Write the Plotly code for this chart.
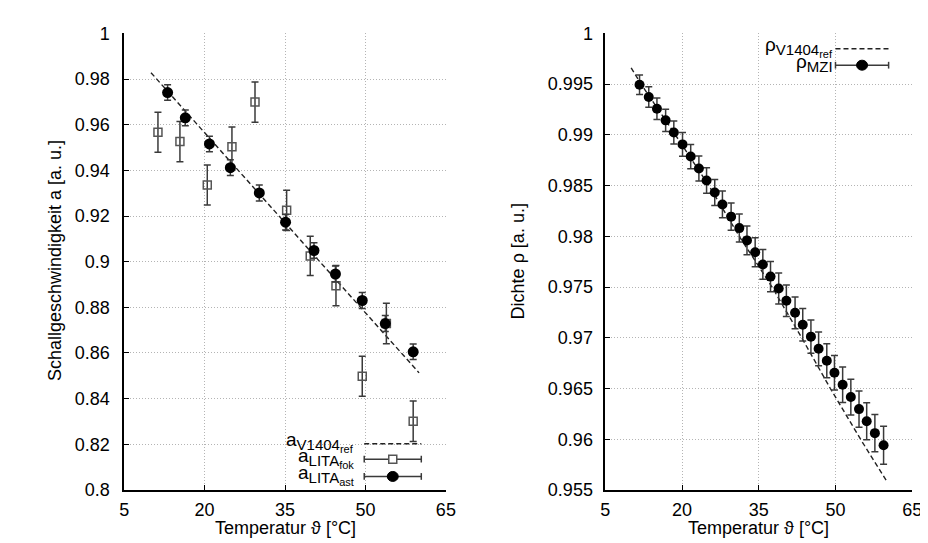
import plotly.graph_objects as go

# left panel: speed of sound
temp_ast = [13.1, 16.4, 20.9, 24.8, 30.2, 35.1, 40.4, 44.4, 49.4, 53.7, 58.9]
a_ast = [0.9741, 0.9630, 0.9516, 0.9412, 0.9301, 0.9173, 0.9049, 0.8946, 0.8830, 0.8729, 0.8605]
a_ast_err = [0.0034, 0.0034, 0.0034, 0.0035, 0.0035, 0.0034, 0.0034, 0.0035, 0.0035, 0.0035, 0.0034]

temp_fok = [11.3, 15.4, 20.5, 25.1, 29.4, 35.3, 39.7, 44.5, 49.4, 53.9, 58.9]
a_fok = [0.9567, 0.9526, 0.9336, 0.9503, 0.9699, 0.9225, 0.9025, 0.8895, 0.8498, 0.8729, 0.8301]
a_fok_err = [0.0088, 0.0088, 0.0088, 0.0087, 0.0088, 0.0088, 0.0086, 0.0088, 0.0088, 0.0089, 0.0089]

temp_ref_a = [10.0, 35.0, 60.0]
a_ref = [0.9828, 0.9170, 0.8513]

# right panel: density
temp_mzi = [11.7, 13.5, 15.1, 16.8, 18.4, 20.1, 21.7, 23.3, 24.8, 26.4, 27.9,
            29.6, 31.2, 32.7, 34.3, 35.8, 37.3, 38.9, 40.4, 42.1, 43.6, 45.2,
            46.7, 48.3, 49.8, 51.4, 53.0, 54.6, 56.1, 57.7, 59.4]
rho_mzi = [0.99494, 0.99374, 0.99257, 0.99143, 0.99023, 0.98906, 0.98786, 0.98669,
           0.98551, 0.98432, 0.98314, 0.98194, 0.98081, 0.97960, 0.97843, 0.97723,
           0.97603, 0.97486, 0.97365, 0.97246, 0.97128, 0.97011, 0.96891, 0.96774,
           0.96655, 0.96537, 0.96416, 0.96297, 0.96177, 0.96060, 0.95940]
rho_err = [0.00097, 0.00101, 0.00106, 0.00109, 0.00114, 0.00117, 0.00120, 0.00123,
           0.00126, 0.00129, 0.00132, 0.00135, 0.00138, 0.00141, 0.00144, 0.00147,
           0.00150, 0.00152, 0.00155, 0.00157, 0.00160, 0.00163, 0.00166, 0.00168,
           0.00171, 0.00174, 0.00176, 0.00179, 0.00182, 0.00184, 0.00187]

temp_ref_rho = [10.06, 12.0, 18.7, 25.25, 31.2, 37.6, 43.4, 49.0, 54.9, 60.06]
rho_ref = [0.99661, 0.995, 0.990, 0.985, 0.980, 0.975, 0.970, 0.965, 0.960, 0.95582]

x_ticks = [5, 20, 35, 50, 65]
a_ticks = [0.8, 0.82, 0.84, 0.86, 0.88, 0.9, 0.92, 0.94, 0.96, 0.98, 1]
a_ticktext = ["0.8", "0.82", "0.84", "0.86", "0.88", "0.9", "0.92", "0.94", "0.96", "0.98", "1"]
rho_ticks = [0.955, 0.96, 0.965, 0.97, 0.975, 0.98, 0.985, 0.99, 0.995, 1]
rho_ticktext = ["0.955", "0.96", "0.965", "0.97", "0.975", "0.98", "0.985", "0.99", "0.995", "1"]

W, H = 928, 543
FONT = "Liberation Sans, Arial, sans-serif"
ERR_COL = "#3a3a3a"
DASH = "5px,3px"


def px(x):
    return x / W


def py(y):
    return 1 - y / H


fig = go.Figure()

fig.add_trace(go.Scatter(x=temp_ref_a, y=a_ref, mode="lines", xaxis="x", yaxis="y",
                         line=dict(color="#222", width=1.4, dash=DASH)))
fig.add_trace(go.Scatter(x=temp_fok, y=a_fok, mode="markers", xaxis="x", yaxis="y",
                         marker=dict(symbol="square-open", size=8, color="#555",
                                     line=dict(width=1.5, color="#555")),
                         error_y=dict(type="data", array=a_fok_err, color=ERR_COL,
                                      thickness=1.5, width=3.5)))
fig.add_trace(go.Scatter(x=temp_ast, y=a_ast, mode="markers", xaxis="x", yaxis="y",
                         marker=dict(symbol="circle", size=11, color="black"),
                         error_y=dict(type="data", array=a_ast_err, color=ERR_COL,
                                      thickness=1.5, width=3.5)))

fig.add_trace(go.Scatter(x=temp_ref_rho, y=rho_ref, mode="lines", xaxis="x2", yaxis="y2",
                         line=dict(color="#222", width=1.4, dash=DASH)))
fig.add_trace(go.Scatter(x=temp_mzi, y=rho_mzi, mode="markers", xaxis="x2", yaxis="y2",
                         marker=dict(symbol="circle", size=10, color="black"),
                         error_y=dict(type="data", array=rho_err, color=ERR_COL,
                                      thickness=1.5, width=3.5)))

ax_common = dict(showline=True, linecolor="black", linewidth=1.5, ticks="inside",
                 ticklen=5, tickcolor="black", showgrid=True, gridcolor="#b4b4b4",
                 griddash="1px,2px", gridwidth=1, zeroline=False,
                 tickfont=dict(family=FONT, size=18, color="black"))

fig.update_layout(
    width=W, height=H, margin=dict(l=0, r=0, t=0, b=0),
    paper_bgcolor="white", plot_bgcolor="white", showlegend=False,
    xaxis=dict(domain=[px(113), px(440)], range=[5, 65], tickvals=x_ticks, anchor="y",
               ticklabelstandoff=3, **ax_common),
    yaxis=dict(domain=[py(490), py(16)], range=[0.8, 1], tickvals=a_ticks, ticktext=a_ticktext,
               anchor="x", ticklabelstandoff=9, **ax_common),
    xaxis2=dict(domain=[px(602), px(914)], range=[5, 65], tickvals=x_ticks, anchor="y2",
                ticklabelstandoff=3, **ax_common),
    yaxis2=dict(domain=[py(490), py(16)], range=[0.955, 1], tickvals=rho_ticks, ticktext=rho_ticktext,
                anchor="x2", ticklabelstandoff=7, **ax_common),
)

# axis titles
for x, y, text, angle in [(277, 530, "Temperatur ϑ [°C]", 0),
                          (758, 530, "Temperatur ϑ [°C]", 0),
                          (42, 252, "Schallgeschwindigkeit a [a. u.]", -90),
                          (513, 253, "Dichte ρ [a. u.]", -90)]:
    fig.add_annotation(x=px(x), y=py(y), xref="paper", yref="paper", text=text,
                       textangle=angle, showarrow=False, xanchor="center", yanchor="middle",
                       font=dict(family=FONT, size=18, color="black"))


# hand drawn gnuplot style keys
def key_line(x0, x1, y):
    fig.add_shape(type="line", xref="paper", yref="paper", x0=px(x0), x1=px(x1), y0=py(y), y1=py(y),
                  line=dict(color="#222", width=1.4, dash=DASH))


def key_errbar(x0, x1, y, symbol):
    fig.add_shape(type="line", xref="paper", yref="paper", x0=px(x0), x1=px(x1), y0=py(y), y1=py(y),
                  line=dict(color=ERR_COL, width=1.5))
    for xe in (x0, x1):
        fig.add_shape(type="line", xref="paper", yref="paper", x0=px(xe), x1=px(xe),
                      y0=py(y - 3.5), y1=py(y + 3.5), line=dict(color=ERR_COL, width=1.5))
    xm = (x0 + x1) / 2
    if symbol == "square":
        fig.add_shape(type="rect", xref="paper", yref="paper", xsizemode="pixel", ysizemode="pixel",
                      xanchor=px(xm), yanchor=py(y), x0=-4, x1=4, y0=-4, y1=4,
                      line=dict(color="#555", width=1.5), fillcolor="white")
    else:
        fig.add_shape(type="circle", xref="paper", yref="paper", xsizemode="pixel", ysizemode="pixel",
                      xanchor=px(xm), yanchor=py(y), x0=-5.5, x1=5.5, y0=-5, y1=5,
                      line=dict(color="black", width=1), fillcolor="black")


def key_text(xr, y, main, sub, subsub=""):
    text = main + "<sub><span style='font-size:15px'>" + sub + "</span>"
    if subsub:
        text += "<sub><span style='font-size:11px'>" + subsub + "</span></sub>"
    text += "</sub>"
    fig.add_annotation(x=px(xr), y=py(y), xref="paper", yref="paper", text=text,
                       xanchor="right", yanchor="middle", showarrow=False, borderpad=0,
                       font=dict(family=FONT, size=19, color="black"))


key_text(348, 440, "a", "V1404", "ref")
key_line(357, 415, 442)
key_text(348, 457, "a", "LITA", "fok")
key_errbar(357, 415, 458, "square")
key_text(348, 474, "a", "LITA", "ast")
key_errbar(357, 415, 476, "circle")

key_text(834, 30, "ρ", "V1404", "ref")
key_line(836, 890, 32)
key_text(834, 47, "ρ", "MZI")
key_errbar(836, 890, 49, "circle")

fig.write_html("out.html")
